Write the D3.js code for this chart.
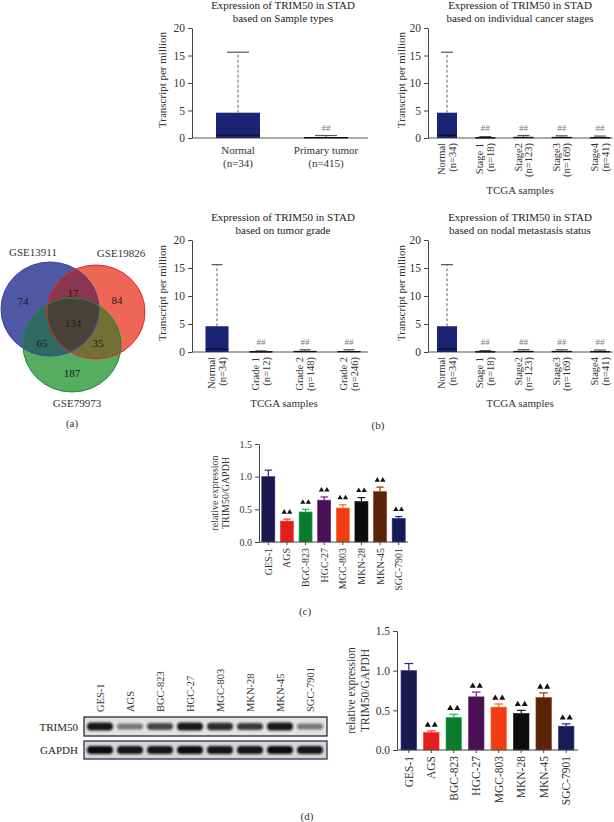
<!DOCTYPE html>
<html>
<head>
<meta charset="utf-8">
<script src="https://cdn.jsdelivr.net/npm/d3@7"></script>
<style>
body { margin: 0; background: #fff; }
svg { font-family: "Liberation Serif", "Times New Roman", serif; }
</style>
</head>
<body>
<div id="canvas"></div>
<script>
// ---- data ----
var tpmTicks = [0, 5, 10, 15, 20];

var sampleCats = ["Normal", "Primary tumor"];
var sampleN = ["(n=34)", "(n=415)"];
var sampleMed = [0.5, 0.08];
var sampleQ3 = [4.6, 0.16];
var sampleHi = [15.6, 0.45];

var stageCats = ["Normal", "Stage 1", "Stage2", "Stage3", "Stage4"];
var stageN = ["(n=34)", "(n=18)", "(n=123)", "(n=169)", "(n=41)"];
var stageMed = [0.5, 0.05, 0.08, 0.08, 0.06];
var stageQ3 = [4.6, 0.12, 0.22, 0.2, 0.16];
var stageHi = [15.6, 0.25, 0.45, 0.4, 0.35];

var gradeCats = ["Normal", "Grade 1", "Grade 2", "Grade 2"];
var gradeN = ["(n=34)", "(n=12)", "(n=148)", "(n=246)"];
var gradeMed = [0.5, 0.05, 0.08, 0.07];
var gradeQ3 = [4.6, 0.1, 0.2, 0.18];
var gradeHi = [15.6, 0.2, 0.4, 0.4];

var nodalCats = ["Normal", "Stage 1", "Stage2", "Stage3", "Stage4"];
var nodalN = ["(n=34)", "(n=18)", "(n=123)", "(n=169)", "(n=41)"];
var nodalMed = [0.5, 0.05, 0.08, 0.08, 0.06];
var nodalQ3 = [4.6, 0.12, 0.2, 0.2, 0.16];
var nodalHi = [15.6, 0.25, 0.4, 0.4, 0.35];

var boxColors = ["#1b2474", "#7a2a26", "#8a3c32", "#4e5232", "#6e2a28"];

var vennNames = ["GSE13911", "GSE19826", "GSE79973"];
// only A, only B, only C, A&B, A&C, B&C, A&B&C
var vennCounts = [74, 84, 187, 17, 65, 35, 134];

var cellLines = ["GES-1", "AGS", "BGC-823", "HGC-27", "MGC-803", "MKN-28", "MKN-45", "SGC-7901"];
var cellColors = ["#1b1850", "#e11f1b", "#0b7a2c", "#4a1054", "#f03e12", "#0c0c0c", "#5a2409", "#161c56"];
var qpcrMean = [1.0, 0.32, 0.46, 0.64, 0.52, 0.62, 0.77, 0.36];
var qpcrErr = [0.1, 0.03, 0.04, 0.05, 0.05, 0.06, 0.07, 0.03];
var wbMean = [1.0, 0.22, 0.41, 0.67, 0.54, 0.46, 0.66, 0.30];
var wbErr = [0.09, 0.02, 0.04, 0.06, 0.04, 0.04, 0.06, 0.03];
var relTicks = [0, 0.5, 1.0, 1.5];

var trimBand = [0.95, 0.5, 0.72, 0.95, 0.85, 0.78, 0.95, 0.5];
var gapdhBand = [1, 0.95, 0.95, 1, 0.95, 0.95, 1, 0.95];

var serif = '"Liberation Serif", "Times New Roman", serif';

var svg = d3.select("#canvas").append("svg")
    .attr("width", 614).attr("height", 822)
    .attr("viewBox", "0 0 614 822");

// ---- box plots ----
function drawBoxPanel(cfg, cats, ns, med, q3, hi) {
    var g = svg.append("g");
    var y = d3.scaleLinear().domain([0, 20]).range([cfg.yZero, cfg.yTop]);
    var x = d3.scalePoint().domain(d3.range(cats.length)).range(cfg.xr);

    cfg.title.forEach(function(t, i) {
        g.append("text").attr("x", cfg.titleX).attr("y", cfg.titleY + i * 12.5)
            .attr("text-anchor", "middle").attr("font-size", 11).attr("fill", "#222").text(t);
    });

    var ax = g.append("g").attr("transform", "translate(" + cfg.axisX + ",0)")
        .call(d3.axisLeft(y).tickValues(tpmTicks).tickSize(4).tickSizeOuter(0));
    ax.attr("font-family", serif);
    ax.selectAll("text").attr("font-size", 11.5).attr("fill", "#333");
    ax.selectAll("line,path").attr("stroke", "#444");

    g.append("line").attr("x1", cfg.axisX).attr("x2", cfg.xEnd)
        .attr("y1", y(0)).attr("y2", y(0)).attr("stroke", "#555");

    g.append("text").attr("transform", "translate(" + cfg.ylabX + "," + ((cfg.yZero + cfg.yTop) / 2 - 3) + ") rotate(-90)")
        .attr("text-anchor", "middle").attr("font-size", 11).attr("fill", "#333").text("Transcript per million");

    cats.forEach(function(c, i) {
        var cx = x(i);
        g.append("line").attr("x1", cx).attr("x2", cx).attr("y1", y(q3[i])).attr("y2", y(hi[i]))
            .attr("stroke", "#666").attr("stroke-dasharray", "3,2");
        g.append("line").attr("x1", cx - cfg.capW / 2).attr("x2", cx + cfg.capW / 2)
            .attr("y1", y(hi[i])).attr("y2", y(hi[i])).attr("stroke", "#555").attr("stroke-width", 1.2);
        g.append("rect").attr("x", cx - cfg.boxW / 2).attr("width", cfg.boxW)
            .attr("y", y(q3[i])).attr("height", Math.max(1.2, y(0) - y(q3[i])))
            .attr("fill", boxColors[i]);
        g.append("line").attr("x1", cx - cfg.boxW / 2).attr("x2", cx + cfg.boxW / 2)
            .attr("y1", y(med[i])).attr("y2", y(med[i])).attr("stroke", "#111").attr("stroke-width", 1.2);
        if (i > 0) {
            g.append("text").attr("x", cx).attr("y", y(0) - 7).attr("text-anchor", "middle")
                .attr("font-size", 9).attr("fill", "#777").text("##");
        }
        if (cfg.rotate) {
            var lg = g.append("g").attr("transform", "translate(" + cx + "," + (y(0) + 5) + ") rotate(-90)");
            lg.append("text").attr("x", 0).attr("y", -2).attr("text-anchor", "end")
                .attr("font-size", 10.5).attr("fill", "#333").text(c);
            lg.append("text").attr("x", 0).attr("y", 8.5).attr("text-anchor", "end")
                .attr("font-size", 10.5).attr("fill", "#333").text(ns[i]);
        } else {
            g.append("text").attr("x", cx).attr("y", y(0) + 16).attr("text-anchor", "middle")
                .attr("font-size", 11).attr("fill", "#333").text(c);
            g.append("text").attr("x", cx).attr("y", y(0) + 29).attr("text-anchor", "middle")
                .attr("font-size", 11).attr("fill", "#333").text(ns[i]);
        }
    });

    if (cfg.xlabel) {
        g.append("text").attr("x", cfg.xlabelX).attr("y", cfg.xlabelY).attr("text-anchor", "middle")
            .attr("font-size", 11).attr("fill", "#333").text(cfg.xlabel);
    }
}

drawBoxPanel({ axisX: 192, xEnd: 368, yZero: 138, yTop: 28, xr: [238, 326], boxW: 44, capW: 22,
    title: ["Expression of TRIM50 in STAD", "based on Sample types"], titleX: 283, titleY: 9,
    ylabX: 166, rotate: false }, sampleCats, sampleN, sampleMed, sampleQ3, sampleHi);

drawBoxPanel({ axisX: 428, xEnd: 613, yZero: 138, yTop: 28, xr: [447, 600], boxW: 20, capW: 12,
    title: ["Expression of TRIM50 in STAD", "based on individual cancer stages"], titleX: 520, titleY: 9,
    ylabX: 405, rotate: true, xlabel: "TCGA samples", xlabelX: 520, xlabelY: 194 },
    stageCats, stageN, stageMed, stageQ3, stageHi);

drawBoxPanel({ axisX: 192, xEnd: 368, yZero: 352, yTop: 240, xr: [217, 349], boxW: 23, capW: 11,
    title: ["Expression of TRIM50 in STAD", "based on tumor grade"], titleX: 283, titleY: 221,
    ylabX: 166, rotate: true, xlabel: "TCGA samples", xlabelX: 284, xlabelY: 407 },
    gradeCats, gradeN, gradeMed, gradeQ3, gradeHi);

drawBoxPanel({ axisX: 428, xEnd: 613, yZero: 352, yTop: 240, xr: [447, 600], boxW: 20, capW: 12,
    title: ["Expression of TRIM50 in STAD", "based on nodal metastasis status"], titleX: 520, titleY: 221,
    ylabX: 405, rotate: true, xlabel: "TCGA samples", xlabelX: 520, xlabelY: 407 },
    nodalCats, nodalN, nodalMed, nodalQ3, nodalHi);

// ---- venn ----
var vennLayout = [
    { cx: 50, cy: 309, fill: "#4e58a5", stroke: "#3a46a0" },
    { cx: 96, cy: 312, fill: "#ee6656", stroke: "#e02a22" },
    { cx: 72, cy: 345, fill: "#55ad62", stroke: "#1d8a2c" }
];
var vrx = 49, vry = 47;
var defs = svg.append("defs");
vennLayout.forEach(function(v, i) {
    defs.append("clipPath").attr("id", "vclip" + i)
        .append("ellipse").attr("cx", v.cx).attr("cy", v.cy).attr("rx", vrx).attr("ry", vry);
});
var vg = svg.append("g");
function vEllipse(parent, i, fill) {
    parent.append("ellipse").attr("cx", vennLayout[i].cx).attr("cy", vennLayout[i].cy)
        .attr("rx", vrx).attr("ry", vry).attr("fill", fill);
}
vEllipse(vg, 0, vennLayout[0].fill);
vEllipse(vg, 1, vennLayout[1].fill);
vEllipse(vg.append("g").attr("clip-path", "url(#vclip0)"), 1, "#8c3550");
vEllipse(vg, 2, vennLayout[2].fill);
vEllipse(vg.append("g").attr("clip-path", "url(#vclip0)"), 2, "#2e6a62");
vEllipse(vg.append("g").attr("clip-path", "url(#vclip1)"), 2, "#727034");
vEllipse(vg.append("g").attr("clip-path", "url(#vclip0)").append("g").attr("clip-path", "url(#vclip1)"), 2, "#48433a");
vennLayout.forEach(function(v) {
    vg.append("ellipse").attr("cx", v.cx).attr("cy", v.cy).attr("rx", vrx).attr("ry", vry)
        .attr("fill", "none").attr("stroke", v.stroke).attr("stroke-width", 1);
});
var a = vennLayout[0], b = vennLayout[1], c = vennLayout[2];
var vennPos = [
    [a.cx - 27, a.cy - 8], [b.cx + 21, b.cy - 12], [c.cx, c.cy + 28],
    [(a.cx + b.cx) / 2, a.cy - 16], [a.cx - 8, c.cy - 2], [b.cx + 2, c.cy - 2],
    [(a.cx + b.cx) / 2, c.cy - 22]
];
vennCounts.forEach(function(n, i) {
    vg.append("text").attr("x", vennPos[i][0]).attr("y", vennPos[i][1] + 4)
        .attr("text-anchor", "middle").attr("font-size", 11).attr("fill", "#1a1a1a").text(n);
});
vg.append("text").attr("x", 33).attr("y", 256).attr("text-anchor", "middle").attr("font-size", 11).attr("fill", "#333").text(vennNames[0]);
vg.append("text").attr("x", 121).attr("y", 257).attr("text-anchor", "middle").attr("font-size", 11).attr("fill", "#333").text(vennNames[1]);
vg.append("text").attr("x", 77).attr("y", 407).attr("text-anchor", "middle").attr("font-size", 11).attr("fill", "#333").text(vennNames[2]);

svg.append("text").attr("x", 72).attr("y", 427).attr("text-anchor", "middle").attr("font-size", 11).attr("fill", "#333").text("(a)");
svg.append("text").attr("x", 378).attr("y", 429).attr("text-anchor", "middle").attr("font-size", 11).attr("fill", "#333").text("(b)");

// ---- bar charts ----
function drawBarPanel(cfg, means, errs) {
    var g = svg.append("g");
    var y = d3.scaleLinear().domain([0, 1.5]).range([cfg.yZero, cfg.yTop]);
    var x = d3.scaleBand().domain(cellLines).range([cfg.axisX, cfg.xEnd])
        .paddingInner(cfg.pi).paddingOuter(cfg.po);

    cellLines.forEach(function(name, i) {
        var bx = x(name), bw = x.bandwidth(), cx = bx + bw / 2;
        var ec = d3.color(cellColors[i]).brighter(1.3).formatHex();
        g.append("line").attr("x1", cx).attr("x2", cx).attr("y1", y(means[i])).attr("y2", y(means[i] + errs[i]))
            .attr("stroke", ec).attr("stroke-width", 1.2);
        g.append("line").attr("x1", cx - bw * 0.28).attr("x2", cx + bw * 0.28)
            .attr("y1", y(means[i] + errs[i])).attr("y2", y(means[i] + errs[i]))
            .attr("stroke", ec).attr("stroke-width", 1.2);
        g.append("rect").attr("x", bx).attr("width", bw).attr("y", y(means[i]))
            .attr("height", y(0) - y(means[i])).attr("fill", cellColors[i])
            .attr("stroke", ec).attr("stroke-width", 0.6);
        if (i > 0) {
            [-1, 1].forEach(function(s) {
                g.append("path").attr("d", d3.symbol(d3.symbolTriangle, cfg.triSize)())
                    .attr("transform", "translate(" + (cx + s * cfg.triGap / 2) + "," + (y(means[i] + errs[i]) - cfg.triUp) + ")")
                    .attr("fill", "#111");
            });
        }
    });

    var ay = g.append("g").attr("transform", "translate(" + cfg.axisX + ",0)")
        .call(d3.axisLeft(y).tickValues(relTicks).tickFormat(d3.format(".1f")).tickSize(4).tickSizeOuter(0));
    ay.attr("font-family", serif);
    ay.selectAll("text").attr("font-size", cfg.font).attr("fill", "#333");
    ay.selectAll("line,path").attr("stroke", "#444");

    var axb = g.append("g").attr("transform", "translate(0," + y(0) + ")")
        .call(d3.axisBottom(x).tickSize(3).tickSizeOuter(0));
    axb.attr("font-family", serif);
    axb.selectAll("line,path").attr("stroke", "#444");
    axb.select("path").attr("d", "M" + cfg.axisX + ",0H" + cfg.xEnd);
    axb.selectAll("text").attr("font-size", cfg.font).attr("fill", "#333")
        .attr("transform", "rotate(-90)").attr("text-anchor", "end")
        .attr("x", -6).attr("y", 0).attr("dy", "0.35em");

    var ly = (cfg.yZero + cfg.yTop) / 2;
    g.append("text").attr("transform", "translate(" + cfg.ylabX + "," + ly + ") rotate(-90)")
        .attr("text-anchor", "middle").attr("font-size", cfg.font).attr("fill", "#333").text("relative expression");
    g.append("text").attr("transform", "translate(" + (cfg.ylabX + cfg.ylabGap) + "," + ly + ") rotate(-90)")
        .attr("text-anchor", "middle").attr("font-size", cfg.font).attr("fill", "#333").text("TRIM50/GAPDH");
}

drawBarPanel({ axisX: 259, xEnd: 408, yZero: 542, yTop: 444, pi: 0.3, po: 0.15, font: 10,
    ylabX: 218, ylabGap: 11, triSize: 12, triGap: 5.5, triUp: 7 }, qpcrMean, qpcrErr);
svg.append("text").attr("x", 305).attr("y", 615).attr("text-anchor", "middle").attr("font-size", 11).attr("fill", "#333").text("(c)");

drawBarPanel({ axisX: 397, xEnd: 578, yZero: 750, yTop: 631, pi: 0.31, po: 0.18, font: 11.5,
    ylabX: 355, ylabGap: 14, triSize: 16, triGap: 7, triUp: 6 }, wbMean, wbErr);
svg.append("text").attr("x", 307).attr("y", 820).attr("text-anchor", "middle").attr("font-size", 11).attr("fill", "#333").text("(d)");

// ---- western blot ----
var blurF = defs.append("filter").attr("id", "blur").attr("x", "-30%").attr("y", "-60%").attr("width", "160%").attr("height", "220%");
blurF.append("feGaussianBlur").attr("stdDeviation", 1.3);
var lane = d3.scalePoint().domain(cellLines).range([100, 310]);
var wb = svg.append("g");
var rows = [
    { name: "TRIM50", y0: 717, y1: 736, bg: "#e2e2e2", border: "#2a2a2a", vals: trimBand },
    { name: "GAPDH", y0: 741, y1: 759, bg: "#d6d6d6", border: "#2a3358", vals: gapdhBand }
];
rows.forEach(function(r) {
    wb.append("rect").attr("x", 84).attr("y", r.y0).attr("width", 243).attr("height", r.y1 - r.y0)
        .attr("fill", r.bg).attr("stroke", r.border).attr("stroke-width", 1.3);
    var cy = (r.y0 + r.y1) / 2;
    cellLines.forEach(function(name, i) {
        var h = 4 + 4 * r.vals[i];
        wb.append("rect").attr("x", lane(name) - 13).attr("y", cy - h / 2).attr("width", 26).attr("height", h)
            .attr("rx", h / 2).attr("fill", "#111").attr("opacity", r.vals[i]).attr("filter", "url(#blur)");
    });
    wb.append("text").attr("x", 78).attr("y", cy + 4).attr("text-anchor", "end")
        .attr("font-size", 11).attr("fill", "#222").text(r.name);
});
cellLines.forEach(function(name) {
    wb.append("text").attr("transform", "translate(" + (lane(name) + 4) + ",712) rotate(-90)")
        .attr("text-anchor", "start").attr("font-size", 10.5).attr("fill", "#333").text(name);
});
</script>
</body>
</html>
